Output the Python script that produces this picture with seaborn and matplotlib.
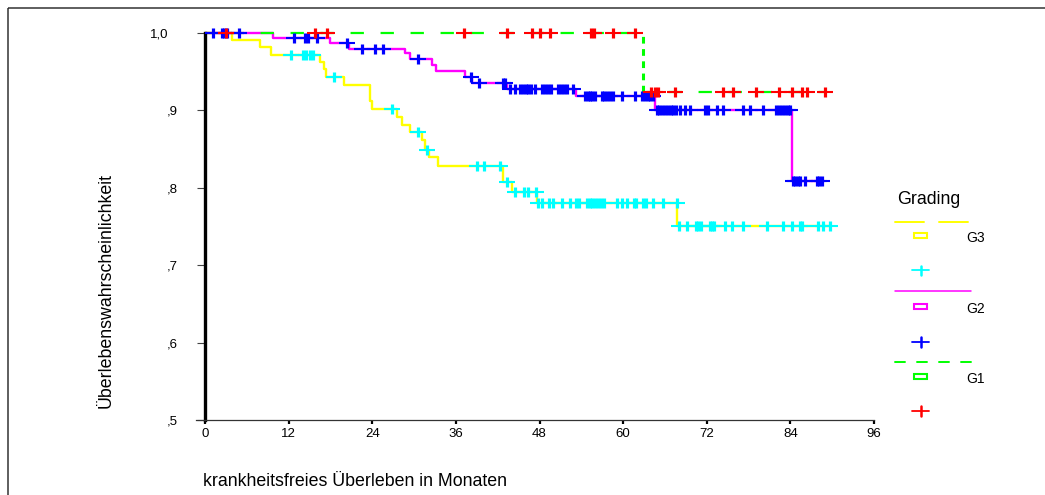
import numpy as np
import pandas as pd
import matplotlib
matplotlib.use("Agg")
import matplotlib.pyplot as plt
import matplotlib.transforms as mtransforms
from matplotlib.patches import Rectangle
import seaborn as sns

sns.set_theme(style="white")
plt.rcParams['font.family'] = ['Liberation Sans', 'DejaVu Sans']

# ---------------- data ----------------
x_ticks = [0, 12, 24, 36, 48, 60, 72, 84, 96]
y_ticks = [0.5, 0.6, 0.7, 0.8, 0.9, 1.0]
y_tick_labels = [",5", ",6", ",7", ",8", ",9", "1,0"]

groups = ["G3", "G2", "G1"]

g3_times = [0, 3.8, 7.9, 9.5, 16.5, 17.0, 17.3, 20.0, 23.7, 24.0, 27.5, 28.2, 29.4,
            31.1, 31.6, 32.2, 33.5, 42.8, 44.0, 47.6, 67.8]
g3_surv = [1.0, 0.991, 0.982, 0.972, 0.963, 0.953, 0.943, 0.933, 0.912, 0.902, 0.891, 0.881, 0.872,
           0.862, 0.849, 0.840, 0.828, 0.807, 0.795, 0.781, 0.751]
g3_cens = [12.4, 14.0, 14.5, 15.0, 15.5, 18.5, 26.8, 30.6, 31.8, 39.0, 40.0, 42.3, 43.4,
           44.5, 45.7, 46.4, 47.5, 47.8, 48.3, 49.3, 50.0, 51.2, 52.4, 53.3, 53.7, 54.8, 55.2,
           55.6, 56.0, 56.4, 56.8, 57.2, 59.1, 59.8, 60.5, 61.5, 61.9, 62.9, 63.3, 64.3, 65.7,
           67.7, 68.0, 69.1, 70.5, 70.8, 71.2, 72.5, 72.8, 73.0, 74.6, 75.6, 77.2, 80.6, 83.0,
           84.2, 85.4, 85.6, 88.0, 88.7, 89.7]

g2_times = [0, 9.8, 18.0, 20.6, 28.7, 29.4, 32.5, 33.2, 37.3, 38.3, 43.3, 53.3, 64.5, 84.2]
g2_surv = [1.0, 0.994, 0.987, 0.979, 0.974, 0.966, 0.959, 0.951, 0.943, 0.936, 0.928, 0.918, 0.900, 0.809]
g2_cens = [1.2, 2.4, 2.7, 3.1, 4.8, 12.7, 14.3, 14.8, 16.0, 20.4, 22.5, 24.4, 25.6, 30.6,
           38.1, 39.3, 42.8, 43.0, 43.8, 44.5, 45.2, 45.6, 46.0, 46.4, 46.8, 47.3, 48.3, 48.8,
           49.2, 49.7, 50.7, 51.1, 51.5, 51.9, 52.8, 54.5, 54.9, 55.3, 55.6, 56.0, 56.9, 57.3,
           57.7, 58.1, 58.6, 59.9, 61.7, 62.7, 63.1, 63.5, 63.9, 64.3, 64.8, 65.2, 65.6, 66.0,
           66.4, 66.8, 67.2, 67.6, 68.1, 68.9, 69.6, 71.7, 72.2, 73.5, 74.3, 77.2, 78.2, 80.1,
           82.0, 82.4, 82.8, 83.2, 83.6, 84.0, 84.4, 84.7, 85.1, 85.4, 86.1, 87.8, 88.1, 88.5]

g1_times = [0, 62.9]
g1_surv = [1.0, 0.924]
g1_cens = [3.0, 15.8, 17.5, 37.1, 43.3, 46.9, 48.1, 49.5, 55.4, 55.8, 58.6, 61.7, 64.0,
           64.5, 65.0, 67.4, 74.4, 75.8, 79.1, 82.3, 84.2, 85.6, 86.4, 88.9]

line_colors = {"G3": "#FFFF00", "G2": "#FF00FF", "G1": "#00FF00"}
cens_colors = {"G3": "#00FFFF", "G2": "#0000FF", "G1": "#FF0000"}
data = {"G3": (g3_times, g3_surv, g3_cens),
        "G2": (g2_times, g2_surv, g2_cens),
        "G1": (g1_times, g1_surv, g1_cens)}

# ---------------- figure ----------------
fig = plt.figure(figsize=(10.45, 4.95), dpi=100)
W, H = 1045, 495
x0_px, x1_px = 196, 874
y_top_px, y_bot_px = 33, 420
ax = fig.add_axes([x0_px / W, (H - y_bot_px) / H, (x1_px - x0_px) / W, (y_bot_px - y_top_px) / H])
ax.set_facecolor("none")


def horiz_segments(times, surv, end):
    rows = []
    t_all = list(times) + [end]
    for i in range(len(times)):
        rows.append({"t": t_all[i], "s": surv[i], "seg": i})
        rows.append({"t": t_all[i + 1], "s": surv[i], "seg": i})
    return pd.DataFrame(rows)


def surv_at(times, surv, ct):
    idx = np.searchsorted(np.asarray(times), np.asarray(ct), side="right") - 1
    return np.asarray(surv)[idx]


for g in groups:
    times, surv, cens = data[g]
    end = max(cens)
    df = horiz_segments(times, surv, end)
    if g == "G1":
        sns.lineplot(data=df, x="t", y="s", units="seg", estimator=None, sort=False, ax=ax,
                     color=line_colors[g], lw=1.6, linestyle=(2, (6, 7.5)), clip_on=False, zorder=2)
        ax.vlines(times[1:], surv[1:], surv[:-1], colors=line_colors[g], lw=2.2,
                  linestyles=[(0, (2.2, 1.8))], zorder=2)
    else:
        sns.lineplot(data=df, x="t", y="s", units="seg", estimator=None, sort=False, ax=ax,
                     color=line_colors[g], lw=1.7, clip_on=False, zorder=2)
        ax.vlines(times[1:], surv[1:], surv[:-1], colors=line_colors[g], lw=1.7, zorder=2)

for g in groups:
    times, surv, cens = data[g]
    cs = surv_at(times, surv, cens)
    sns.scatterplot(x=cens, y=cs, marker="_", s=140, color=cens_colors[g], linewidth=1.5,
                    ax=ax, clip_on=False, zorder=3, legend=False)
    sns.scatterplot(x=cens, y=cs, marker="|", s=58, color=cens_colors[g], linewidth=2.3,
                    ax=ax, clip_on=False, zorder=3, legend=False)

ax.set_xlim(-1.3, 96)
ax.set_ylim(0.5, 1.0)
ax.set_xticks(x_ticks)
ax.set_xticklabels([str(v) for v in x_ticks])
ax.set_yticks(y_ticks)
ax.set_yticklabels(y_tick_labels)
ax.set_xlabel("")
ax.set_ylabel("")
ax.grid(False)

for side in ["top", "right"]:
    ax.spines[side].set_visible(False)
ax.spines["left"].set_position(("data", 0))
ax.spines["left"].set_linewidth(2.4)
ax.spines["left"].set_color("black")
ax.spines["left"].set_bounds(0.5, 1.0)
ax.spines["bottom"].set_linewidth(0.9)
ax.spines["bottom"].set_color("#333333")

ax.tick_params(axis="x", direction="out", length=2.8, width=1.6, color="black",
               labelsize=9.5, pad=3, labelcolor="black", bottom=True)
ax.tick_params(axis="y", direction="out", length=6, width=0.8, color="#444444",
               labelsize=9.5, pad=13.5, labelcolor="black", left=True)

for lab in ax.get_yticklabels():
    if lab.get_text() == "1,0":
        lab.set_transform(lab.get_transform() + mtransforms.ScaledTranslation(-10 / 100, 0, fig.dpi_scale_trans))

# ---------------- overlay for labels, legend, frame ----------------
ov = fig.add_axes([0, 0, 1, 1], zorder=-1)
ov.set_xlim(0, W)
ov.set_ylim(H, 0)
ov.axis("off")
ov.add_patch(Rectangle((8, 8), 1200, 700, fill=False, ec="#333333", lw=1.1))

fig.text(106 / W, 1 - 290 / H, "Überlebenswahrscheinlichkeit", rotation=90,
         ha="center", va="center", fontsize=12.8, color="black")
fig.text(203 / W, 1 - 481 / H, "krankheitsfreies Überleben in Monaten",
         ha="left", va="center", fontsize=12.8, color="black")

ov2 = fig.add_axes([0, 0, 1, 1], zorder=5)
ov2.set_xlim(0, W)
ov2.set_ylim(H, 0)
ov2.axis("off")
ov2.patch.set_alpha(0)

ov2.text(897, 200, "Grading", fontsize=12.8, ha="left", va="center", color="black")
# G3
ov2.plot([895, 924], [221.7, 221.7], color=line_colors["G3"], lw=1.4)
ov2.plot([939, 968], [221.7, 221.7], color=line_colors["G3"], lw=1.4)
ov2.add_patch(Rectangle((914, 233), 13, 5, fill=False, ec=line_colors["G3"], lw=1.5))
ov2.text(966, 238, "G3", fontsize=10, ha="left", va="center", color="black")
ov2.plot([912, 929], [270, 270], color=cens_colors["G3"], lw=1.3)
ov2.plot([920.5, 920.5], [265.5, 275], color=cens_colors["G3"], lw=1.8)
# G2
ov2.plot([895, 971], [290.7, 290.7], color=line_colors["G2"], lw=1.1)
ov2.add_patch(Rectangle((914, 304), 13, 5, fill=False, ec=line_colors["G2"], lw=1.5))
ov2.text(966, 309, "G2", fontsize=10, ha="left", va="center", color="black")
ov2.plot([912, 929], [341.7, 341.7], color=cens_colors["G2"], lw=1.3)
ov2.plot([920.5, 920.5], [337, 346.5], color=cens_colors["G2"], lw=1.8)
# G1
for xs in [895, 917, 939, 961]:
    ov2.plot([xs, xs + 10], [361.7, 361.7], color=line_colors["G1"], lw=1.4)
ov2.add_patch(Rectangle((914, 374), 13, 5, fill=False, ec=line_colors["G1"], lw=1.5))
ov2.text(966, 379, "G1", fontsize=10, ha="left", va="center", color="black")
ov2.plot([912, 929], [410.7, 410.7], color=cens_colors["G1"], lw=1.3)
ov2.plot([920.5, 920.5], [406, 415.5], color=cens_colors["G1"], lw=1.8)

fig.savefig("out.png", dpi=100)
